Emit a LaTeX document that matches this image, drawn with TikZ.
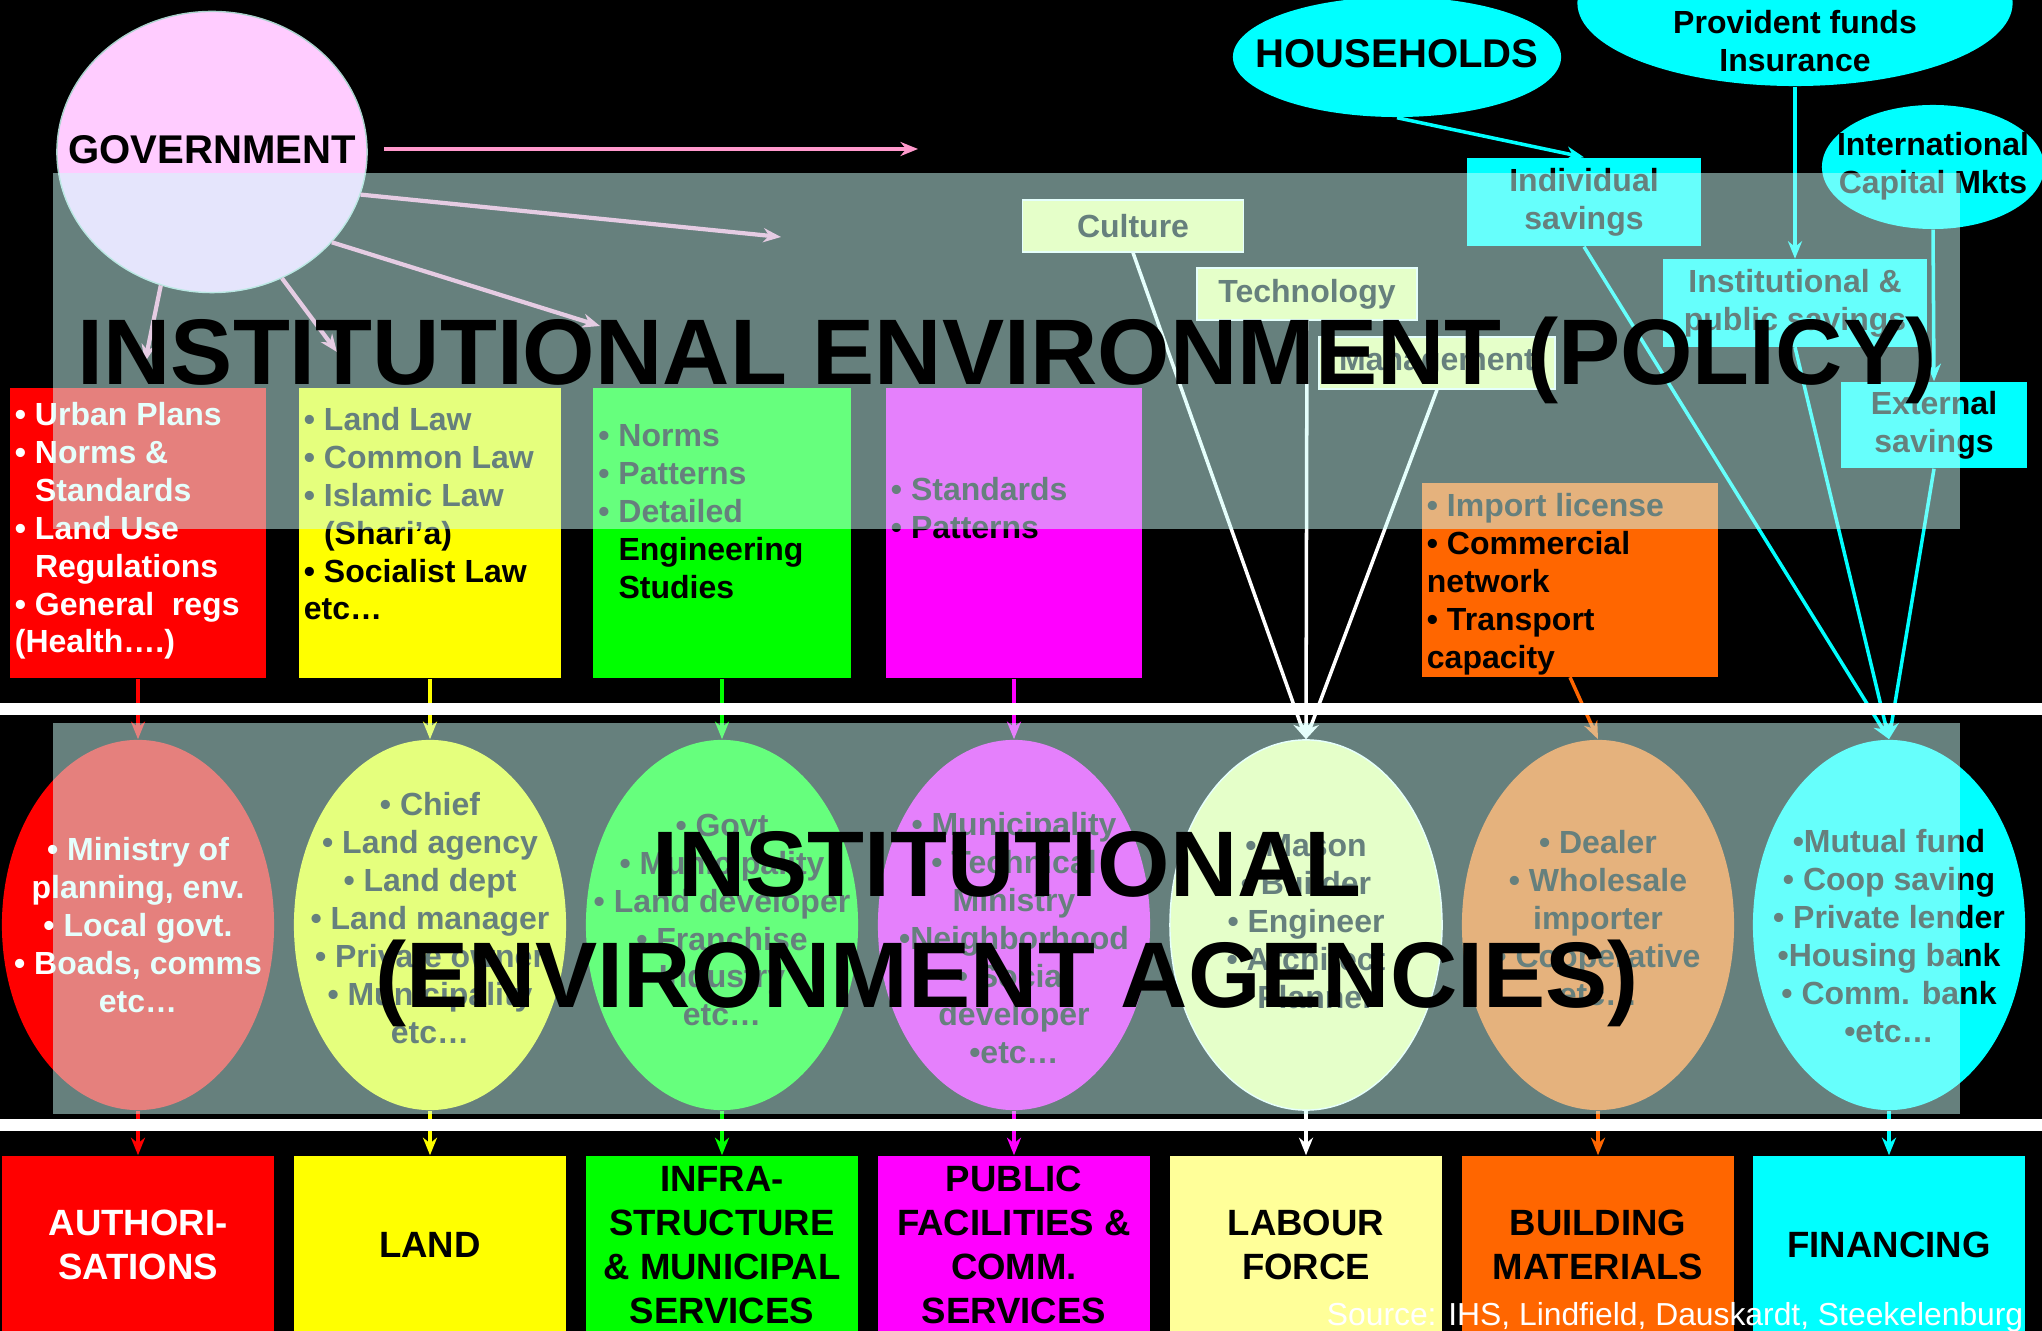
\documentclass[tikz,border=0pt]{standalone}
\usepackage{fontspec}
\setmainfont{Liberation Sans}
\usepackage{tikz}
\usetikzlibrary{shapes.geometric,arrows.meta}

\definecolor{govpink}{RGB}{255,204,255}
\definecolor{govline}{RGB}{255,153,204}
\definecolor{govrim}{RGB}{170,210,205}
\definecolor{paleyel}{RGB}{255,255,153}
\definecolor{orng}{RGB}{255,102,0}
\definecolor{veil}{RGB}{204,255,250}
\definecolor{aqua}{RGB}{0,255,255}
\definecolor{fuchs}{RGB}{255,0,255}
\definecolor{lemon}{RGB}{255,255,0}
\definecolor{lime}{RGB}{0,255,0}
\definecolor{scarlet}{RGB}{255,0,0}

\newcommand{\txtsmall}{\fontsize{9.1}{10.8}\selectfont\bfseries}
\newcommand{\txtbig}{\fontsize{11.4}{13.7}\selectfont\bfseries}
\newcommand{\txtres}{\fontsize{10.4}{12.5}\selectfont\bfseries}
\newcommand{\txttitle}{\fontsize{26.5}{31.6}\selectfont\bfseries}

\tikzset{
  oval/.style={ellipse, inner sep=0pt},
  agency/.style={oval, minimum width=2.72cm, minimum height=3.7cm},
  polbox/.style={rectangle, inner sep=0pt, minimum height=2.9cm},
  resbox/.style={rectangle, inner sep=0pt, minimum width=2.72cm, minimum height=1.78cm, align=center, font=\txtres},
  tagbox/.style={rectangle, draw=white, line width=0.4pt, fill=paleyel, inner sep=0pt, minimum height=0.52cm, font=\txtsmall},
  savbox/.style={rectangle, fill=aqua, inner sep=0pt, align=center, font=\txtsmall},
  txt/.style={inner sep=0pt, align=center, font=\txtsmall},
  ltxt/.style={inner sep=0pt, align=left, anchor=north west, font=\txtsmall},
  flow/.style={->, line width=1pt},
  band/.style={fill=white},
  haze/.style={fill=veil, fill opacity=0.5},
  headline/.style={inner sep=0pt, align=center, font=\txttitle}
}

\begin{document}
\begin{tikzpicture}[x=0.01cm, y=-0.01cm, >={Stealth[length=5pt,width=4pt]}]
\useasboundingbox (0,0) rectangle (2042,1331);
\clip (0,0) rectangle (2042,1331);
\fill[black] (0,0) rectangle (2042,1331);

% government and its arrows
\node[oval, fill=govpink, draw=govrim, minimum width=3.1cm, minimum height=2.81cm] (gov) at (212,152) {};
\node[inner sep=0pt, font=\txtbig] (govtxt) at (212,150) {GOVERNMENT};
\coordinate (g1) at (918,149);
\coordinate (g2) at (781,237);
\coordinate (g3) at (600,326);
\coordinate (g4) at (337,352);
\coordinate (g5) at (145,362);
\draw[flow, govline, line width=1.2pt, shorten <=0.16cm] (gov.east |- g1) -- (g1);
\draw[flow, govline, line width=1.2pt] (gov.-16) -- (g2);
\draw[flow, govline, line width=1.2pt] (gov.-37) -- (g3);
\draw[flow, govline, line width=1.2pt] (gov.-61) -- (g4);
\draw[flow, govline, line width=1.2pt] (gov.-111) -- (g5);

% sources of finance
\node[oval, fill=aqua, minimum width=3.28cm, minimum height=1.2cm] (hh) at (1397,57) {};
\node[inner sep=0pt, font=\txtbig] (hhtxt) at (1397,54) {HOUSEHOLDS};
\node[oval, fill=aqua, minimum width=4.35cm, minimum height=1.66cm] (prov) at (1795,3) {};
\node[txt, anchor=south] (provtxt) at (1795,73) {Provident funds\\Insurance};
\node[oval, fill=aqua, minimum width=2.22cm, minimum height=1.24cm] (intl) at (1933,167) {};
\node[txt] (intltxt) at (1933,166) {International\\Capital Mkts};

\node[tagbox, minimum width=2.21cm] (cult) at (1133,226) {Culture};
\node[tagbox, minimum width=2.2cm] (tech) at (1307,294) {Technology};
\node[tagbox, minimum width=2.36cm] (mgmt) at (1437,363) {Management};
\node[savbox, minimum width=2.34cm, minimum height=0.88cm] (indsav) at (1584,202) {Individual\\savings};
\node[savbox, minimum width=2.63cm, minimum height=0.87cm] (instsav) at (1795,303) {Institutional \&\\public savings};
\node[savbox, minimum width=1.85cm, minimum height=0.86cm] (extsav) at (1934,425) {External\\savings};

% policy boxes
\node[polbox, fill=scarlet, minimum width=2.56cm] (polauth) at (138,533) {};
\node[ltxt, white] (polauthtxt) at ([shift={(5,14)}]polauth.north west)
  {\textbullet\ Urban Plans\\\textbullet\ Norms \&\\\phantom{\textbullet\ }Standards\\\textbullet\ Land Use\\\phantom{\textbullet\ }Regulations\\\textbullet\ General~~regs\\(Health….)};
\node[polbox, fill=lemon, minimum width=2.62cm] (polland) at (430,533) {};
\node[ltxt] (pollandtxt) at ([shift={(5,19)}]polland.north west)
  {\textbullet\ Land Law\\\textbullet\ Common Law\\\textbullet\ Islamic Law\\\phantom{\textbullet\ }(Shari’a)\\\textbullet\ Socialist Law\\etc…};
\node[polbox, fill=lime, minimum width=2.57cm] (polinfra) at (722,533) {};
\node[ltxt] (polinfratxt) at ([shift={(5,37)}]polinfra.north west)
  {\textbullet\ Norms\\\textbullet\ Patterns\\\textbullet\ Detailed\\\phantom{\textbullet\ }Engineering\\\phantom{\textbullet\ }Studies};
\node[polbox, fill=fuchs, minimum width=2.56cm] (polpub) at (1014,533) {};
\node[ltxt] (polpubtxt) at ([shift={(5,89)}]polpub.north west)
  {\textbullet\ Standards\\\textbullet\ Patterns};
\node[polbox, fill=orng, minimum width=2.96cm, minimum height=1.93cm] (polbuild) at (1570,580) {};
\node[ltxt] (polbuildtxt) at ([shift={(5,10)}]polbuild.north west)
  {\textbullet\ Import license\\\textbullet\ Commercial\\network\\\textbullet\ Transport\\capacity};

% agencies
\node[agency, fill=scarlet] (agauth) at (138,925) {};
\node[agency, fill=lemon] (agland) at (430,925) {};
\node[agency, fill=lime] (aginfra) at (722,925) {};
\node[agency, fill=fuchs] (agpub) at (1014,925) {};
\node[agency, fill=paleyel, draw=white] (aglab) at (1306,925) {};
\node[agency, fill=orng] (agbuild) at (1598,925) {};
\node[agency, fill=aqua] (agfin) at (1889,925) {};

\node[txt, white] (agauthtxt) at (138,925) {\textbullet\ Ministry of\\planning, env.\\\textbullet\ Local govt.\\\textbullet\ Boads, comms\\etc…};
\node[txt] (aglandtxt) at (430,918) {\textbullet\ Chief\\\textbullet\ Land agency\\\textbullet\ Land dept\\\textbullet\ Land manager\\\textbullet\ Private owner\\\textbullet\ Municipality\\etc…};
\node[txt] (aginfratxt) at (722,920) {\textbullet\ Govt\\\textbullet\ Municipality\\\textbullet\ Land developer\\\textbullet\ Franchise\\Industry\\etc…};
\node[txt] (agpubtxt) at (1014,938) {\textbullet\ Municipality\\\textbullet\ Technical\\Ministry\\\textbullet Neighborhood\\\textbullet\ Social\\developer\\\textbullet etc…};
\node[txt] (aglabtxt) at (1306,922) {\textbullet\ Mason\\\textbullet\ Builder\\\textbullet\ Engineer\\\textbullet\ Architect\\\textbullet\ Planner};
\node[txt] (agbuildtxt) at (1598,918) {\textbullet\ Dealer\\\textbullet\ Wholesale\\importer\\\textbullet\ Cooperative\\etc…};
\node[txt] (agfintxt) at (1889,936) {\textbullet Mutual fund\\\textbullet\ Coop saving\\\textbullet\ Private lender\\\textbullet Housing bank\\\textbullet\ Comm. bank\\\textbullet etc…};

% resources
\node[resbox, fill=scarlet, text=white] (resauth) at (138,1245) {AUTHORI-\\SATIONS};
\node[resbox, fill=lemon] (resland) at (430,1245) {LAND};
\node[resbox, fill=lime] (resinfra) at (722,1245) {INFRA-\\STRUCTURE\\\& MUNICIPAL\\SERVICES};
\node[resbox, fill=fuchs] (respub) at (1014,1245) {PUBLIC\\FACILITIES \&\\COMM.\\SERVICES};
\node[resbox, fill=paleyel] (reslab) at (1306,1245) {LABOUR\\FORCE};
\node[resbox, fill=orng] (resbuild) at (1598,1245) {BUILDING\\MATERIALS};
\node[resbox, fill=aqua] (resfin) at (1889,1245) {FINANCING};

% flows
\draw[flow, aqua] (hh.south) -- (indsav.north);
\draw[flow, aqua] (prov.south) -- (instsav.north);
\draw[flow, aqua] (intl.south) -- (extsav.north);
\foreach \src in {cult,tech,mgmt}
  \draw[flow, white] (\src.south) -- (aglab.north);
\foreach \src in {indsav,instsav,extsav}
  \draw[flow, aqua] (\src.south) -- (agfin.north);
\draw[flow, orng] (polbuild.south) -- (agbuild.north);
\foreach \lvl/\col in {auth/scarlet,land/lemon,infra/lime,pub/fuchs}
  \draw[flow, \col] (pol\lvl.south) -- (ag\lvl.north);
\foreach \lvl/\col in {auth/scarlet,land/lemon,infra/lime,pub/fuchs,lab/white,build/orng,fin/aqua}
  \draw[flow, \col] (ag\lvl.south) -- (res\lvl.north);

% white bands
\fill[band] (0,703) rectangle (2042,715);
\fill[band] (0,1119) rectangle (2042,1131);

% shaded panels and titles
\fill[haze] (53,173) rectangle (1960,529);
\fill[haze] (53,723) rectangle (1960,1114);
\node[headline, anchor=base] (poltitle) at (1007,385) {INSTITUTIONAL ENVIRONMENT (POLICY)};
\node[headline] (agtitle) at (1007,929) {INSTITUTIONAL\\(ENVIRONMENT AGENCIES)};

\node[inner sep=0pt, anchor=base east, white, font=\fontsize{9.05}{11}\selectfont] (src) at (2024,1325) {Source: IHS, Lindfield, Dauskardt, Steekelenburg};
\end{tikzpicture}
\end{document}
